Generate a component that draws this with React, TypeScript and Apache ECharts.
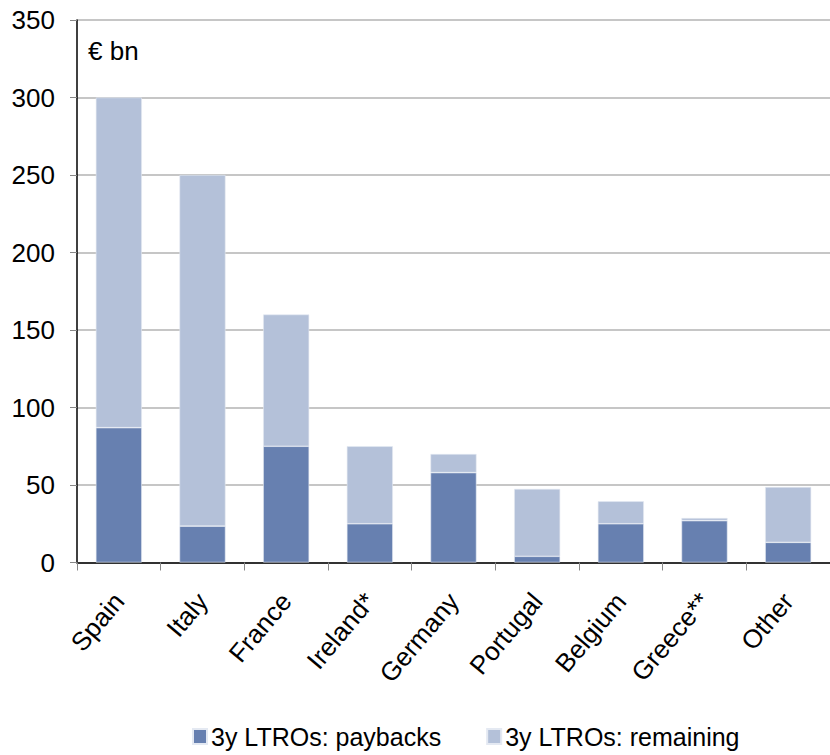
import React, { useEffect, useRef } from "react";
import * as echarts from "echarts";

const categories = ["Spain", "Italy", "France", "Ireland*", "Germany", "Portugal", "Belgium", "Greece**", "Other"];
const paybacks = [87, 23.5, 75, 25, 58, 4, 25, 27, 13];
const totals = [300, 250, 160, 75, 70, 47.5, 39.5, 28.7, 48.7];
const remaining = totals.map((t, i) => +(t - paybacks[i]).toFixed(1));
const yTicks = { min: 0, max: 350, interval: 50 };

const FONT = "'Liberation Sans Narrow', 'Liberation Sans', Arial, sans-serif";

export default function App() {
  const ref = useRef<HTMLDivElement>(null);
  useEffect(() => {
    if (!ref.current) return;
    const chart = echarts.init(ref.current, undefined, { renderer: "svg" });
    chart.setOption({
      animation: false,
      grid: { left: 77, top: 20, width: 757, height: 542.5 },
      graphic: [
        {
          type: "text",
          left: 88,
          top: 38,
          style: { text: "€ bn", font: `26px ${FONT}`, fill: "#000" },
        },
      ],
      legend: {
        top: 719,
        left: 187,
        itemWidth: 14,
        itemHeight: 15,
        itemGap: 45,
        icon: "rect",
        textStyle: { fontFamily: FONT, fontSize: 25, color: "#000", padding: [0, 0, 0, -1] },
        data: ["3y LTROs: paybacks", "3y LTROs: remaining"],
      },
      xAxis: {
        type: "category",
        data: categories,
        axisLine: { lineStyle: { color: "#000", width: 1.5 } },
        axisTick: { show: true, length: 8, lineStyle: { color: "#888" } },
        axisLabel: {
          rotate: 50,
          fontFamily: FONT,
          fontSize: 26,
          color: "#000",
          margin: 34,
        },
      },
      yAxis: {
        type: "value",
        min: yTicks.min,
        max: yTicks.max,
        interval: yTicks.interval,
        axisLine: { show: true, lineStyle: { color: "#000", width: 1.5 } },
        axisTick: { show: true, length: 7, lineStyle: { color: "#888" } },
        axisLabel: { fontFamily: FONT, fontSize: 26, color: "#000", margin: 22 },
        splitLine: { lineStyle: { color: "#b3b3b3", width: 1.5 } },
      },
      series: [
        {
          name: "3y LTROs: paybacks",
          type: "bar",
          stack: "ltro",
          barWidth: "55%",
          data: paybacks,
          itemStyle: { color: "#6780b0", borderColor: "#e4e9f2", borderWidth: 0.6 },
        },
        {
          name: "3y LTROs: remaining",
          type: "bar",
          stack: "ltro",
          barWidth: "55%",
          data: remaining,
          itemStyle: { color: "#b4c1d9", borderColor: "#e4e9f2", borderWidth: 0.6 },
        },
      ],
    });
    return () => chart.dispose();
  }, []);
  return (
    <div
      ref={ref}
      style={{ position: "fixed", left: 0, top: 0, width: 830, height: 755, background: "#fff" }}
    />
  );
}
